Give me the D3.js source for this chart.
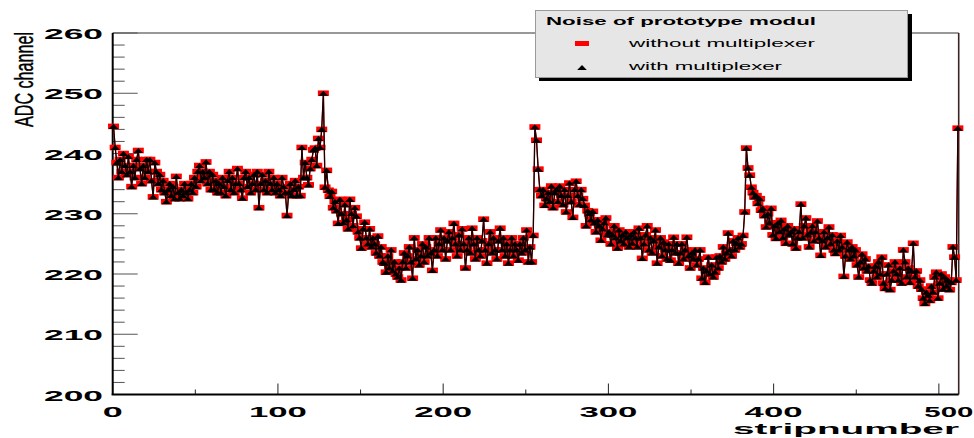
<!DOCTYPE html>
<html>
<head>
<meta charset="utf-8">
<script src="https://cdn.jsdelivr.net/npm/d3@7"></script>
<style>
  html, body { margin: 0; padding: 0; background: #ffffff; }
  svg { display: block; }
</style>
</head>
<body>
<svg id="chart" width="974" height="438"></svg>
<script>
// ---------------- data ----------------
const chartTitle = "Noise of prototype modul";
const seriesNames = ["without multiplexer", "with multiplexer"];
const xTitle = "stripnumber";
const yTitle = "ADC channel";
const xTickValues = [0, 100, 200, 300, 400, 500];
const xTickLabels = ["0", "100", "200", "300", "400", "500"];
const yTickValues = [200, 210, 220, 230, 240, 250, 260];
const yTickLabels = ["200", "210", "220", "230", "240", "250", "260"];

// ADC noise per strip (strips 0..511)
const withoutMultiplexer = [
  // 0-31
  244.5,241,238.5,236,239,237,240,238,236.5,239.5,237,234.5,238,236,239,240.5,
  237.5,235,238,236,239,237,239,235.5,232.8,238.5,237,235,236.5,234,235.5,233.5,
  // 32-63
  232,234,235,233,234.5,232.5,236.2,233.5,232.5,234,233,235,233.5,232.5,234,235,
  233.5,236,234.5,237,238,235.5,237,236,238.6,235,237,234,236.5,234,235.5,233.5,
  // 64-95
  235,233.5,236,234.5,233,235.5,237,234,236,233.5,235,237.5,235,234,232.6,236,
  237,234.5,236,233.5,235,236.5,234,237,231,235,236.5,234,235.5,233.5,237,235,
  // 96-127
  234,236,233.5,235,234,233,236,234.5,233.5,229.7,233.5,235,233,234,235.5,233,
  234.5,233,241,236,238.5,236,234.8,237.5,239,240.6,240.9,238,242.5,241,244,250,
  // 128-159
  234.4,237.2,233.9,232.9,233.7,231,232,230.5,228.4,232.4,230,228.5,231.5,229,227.5,232.4,
  230,228,231,229.6,227,226,224.3,227.5,228.6,226,225,227.5,224.5,226,225,223.5,
  // 160-191
  226.3,223,224.5,222,221.8,220.3,223,221,224,220.5,222,220,219.5,221,219,222,
  223.5,221,223,224.5,222,219.3,226,222.5,224,221.5,223,225,222,224.5,223,226,
  // 192-223
  223.5,220.6,224,226,223,225,227.3,224,226,222.5,225.5,227,224,226,228.4,225,
  223,226.5,224,227.5,225,221,224,226,223.5,227.6,225,222.5,226,224,223,225.5,
  // 224-255
  229.1,224,221.8,225,227,223.5,226,224,222.5,225.5,227.6,224,226,223,225,221.8,
  224,226,223,225,224,222.3,225,223.5,226,224,227.3,222,224.5,222,226.4,244.4,
  // 256-287
  242.2,237.4,234,233,234,231.4,232.5,233.5,232,234.6,231,233.5,234,232,234.6,233,
  231.5,234,230.3,233,235.1,232,229.4,234,235.4,233,231.5,234,232.5,231.4,228,230.5,
  // 288-319
  230,229,230.4,228.5,227,229,228,225.6,227.5,228.5,229.3,226.5,227,225,226.5,228,
  226,224.3,227.3,225.5,226.5,225,227,226,224.5,226.5,225.1,227,226,224.5,227.6,226,
  // 320-351
  222.6,225,226.5,228,224,226,223.5,225.5,227.3,221.8,224.5,226,223,225.3,224,222.5,
  225,222.3,224,226.1,223.5,225,221.8,223.5,225,222.5,224,226.1,223,221,223.5,222.5,
  // 352-383
  224,221.5,222.5,224,219.3,221,218.6,220.5,222.8,220,221.5,219.5,220.3,222.8,221,223,
  222,224.5,222.5,223.5,226.8,224,223,225.5,224,225.1,226,224.5,225,226.4,230.3,240.9,
  // 384-415
  237.6,236.4,234.4,233.5,232.8,233,231.7,232.5,230.6,230.9,229.7,227.8,230,228.5,230.9,226.5,
  228,225.9,228.5,227,228.9,226,227.5,225.1,228,226.5,227,225,227.5,224.3,226,227,
  // 416-447
  231.6,226,228,229.3,226.5,224.5,227,228,225.5,227,228.8,226,223.1,225.5,227,224.5,
  226,227.8,225,226.5,224,223.4,225.5,224,226.4,224.5,219.6,223,225.3,224,222.5,224.5,
  // 448-479
  223,224,221.5,219.5,222,223.3,221,222.5,220.5,221.3,219,218.5,220.5,221.3,219.5,222,
  220,222.8,218.5,217.6,220,221.5,217.4,219,220.5,222,220,219,221,218.5,224,222,
  // 480-511
  219.5,221,218.6,220.5,225.1,219.5,220.5,218,219,217.5,216,215.1,217,216.5,215.6,218,
  217,219.5,220.3,216,218.5,220,217.5,219.5,218,219,217.4,218.6,224.5,222.8,219,244.2
];
// In the picture both series lie on top of each other (triangles sit on the squares)
const withMultiplexer = withoutMultiplexer;

// ---------------- layout ----------------
const svg = d3.select("#chart");
const x = d3.scaleLinear().domain([0, 512]).range([112.7, 958.7]);
const y = d3.scaleLinear().domain([200, 260]).range([394.5, 33]);
const FONT = "'Liberation Sans', Arial, Helvetica, sans-serif";

// frame (top / right)
svg.append("line").attr("x1", x(0)).attr("x2", x(512)).attr("y1", y(260)).attr("y2", y(260))
  .attr("stroke", "#333").attr("stroke-width", 1);
svg.append("line").attr("x1", x(512)).attr("x2", x(512)).attr("y1", y(260)).attr("y2", y(200))
  .attr("stroke", "#3a2424").attr("stroke-width", 1.6);

// y ticks (major every 10, minor every 2), pointing into the plot
const yMinor = d3.range(200, 260.001, 2);
svg.append("g").selectAll("line").data(yMinor).join("line")
  .attr("x1", x(0)).attr("x2", d => x(0) + (d % 10 === 0 ? 25 : 12))
  .attr("y1", d => y(d)).attr("y2", d => y(d))
  .attr("stroke", "#555").attr("stroke-width", 1);

// x ticks (major every 100, half every 50), pointing up
const xHalf = d3.range(0, 512, 50);
svg.append("g").selectAll("line").data(xHalf).join("line")
  .attr("x1", d => x(d)).attr("x2", d => x(d))
  .attr("y1", y(200)).attr("y2", d => y(200) - (d % 100 === 0 ? 11 : 5))
  .attr("stroke", "#222").attr("stroke-width", 1);

// axis lines
svg.append("line").attr("x1", x(0)).attr("x2", x(0)).attr("y1", y(260)).attr("y2", y(200) + 0.5)
  .attr("stroke", "#000").attr("stroke-width", 2);
svg.append("line").attr("x1", x(0) - 1).attr("x2", x(512)).attr("y1", y(200)).attr("y2", y(200))
  .attr("stroke", "#000").attr("stroke-width", 2);

// y tick labels
svg.append("g").selectAll("text").data(yTickValues).join("text")
  .attr("x", 103).attr("y", d => y(d) + 6)
  .attr("text-anchor", "end")
  .attr("font-family", FONT).attr("font-weight", "bold").attr("font-size", 15.5)
  .attr("textLength", 59).attr("lengthAdjust", "spacingAndGlyphs")
  .text((d, i) => yTickLabels[i]);

// x tick labels
svg.append("g").selectAll("text").data(xTickValues).join("text")
  .attr("x", (d, i) => x(d) + (i === xTickValues.length - 1 ? 10 : 0))
  .attr("y", 416.5)
  .attr("text-anchor", "middle")
  .attr("font-family", FONT).attr("font-weight", "bold").attr("font-size", 15.5)
  .attr("textLength", (d, i) => xTickLabels[i].length === 1 ? 20 : (i === xTickValues.length - 1 ? 49 : 58))
  .attr("lengthAdjust", "spacingAndGlyphs")
  .text((d, i) => xTickLabels[i]);

// axis titles
svg.append("text")
  .attr("x", 959).attr("y", 433.5).attr("text-anchor", "end")
  .attr("font-family", FONT).attr("font-weight", "bold").attr("font-size", 15.5)
  .attr("textLength", 226).attr("lengthAdjust", "spacingAndGlyphs")
  .text(xTitle);
// y title: condensed by a horizontal scale (in the rotated frame) so its box stays on the page
const yt = svg.append("text")
  .attr("text-anchor", "start")
  .attr("font-family", FONT).attr("font-size", 26)
  .attr("stroke", "#000").attr("stroke-width", 0.4)
  .text(yTitle);
const ytLen = yt.node().getComputedTextLength() || 150;
yt.attr("transform", `translate(33,127) rotate(-90) scale(${95 / ytLen},1)`);

// ---------------- series ----------------
const pts1 = withoutMultiplexer.map((v, i) => [i + 0.5, v]);
const pts2 = withMultiplexer.map((v, i) => [i + 0.5, v]);
const line = d3.line().x(d => x(d[0])).y(d => y(d[1]));

const plot = svg.append("g");
plot.append("path").datum(pts1).attr("d", line)
  .attr("fill", "none").attr("stroke", "#d00000").attr("stroke-width", 1.2);
plot.append("g").selectAll("rect").data(pts1).join("rect")
  .attr("x", d => x(d[0]) - 5.5).attr("y", d => y(d[1]) - 2.8)
  .attr("width", 11).attr("height", 5.6).attr("fill", "#ff0000");
plot.append("path").datum(pts2).attr("d", line)
  .attr("fill", "none").attr("stroke", "#1a0000").attr("stroke-width", 1.3);
const tri = (cx, cy) => `M${cx - 4.8},${cy + 2.6}L${cx + 4.8},${cy + 2.6}L${cx},${cy - 2.6}Z`;
plot.append("g").selectAll("path").data(pts2).join("path")
  .attr("d", d => tri(x(d[0]), y(d[1])))
  .attr("fill", "#000");

// ---------------- legend ----------------
const lg = svg.append("g");
lg.append("rect").attr("x", 539).attr("y", 14).attr("width", 373).attr("height", 67).attr("fill", "#000");
lg.append("rect").attr("x", 535.5).attr("y", 10.5).attr("width", 372).attr("height", 67)
  .attr("fill", "#e6e6e6").attr("stroke", "#9a9a9a").attr("stroke-width", 1);
lg.append("text").attr("x", 546).attr("y", 25)
  .attr("font-family", FONT).attr("font-weight", "bold").attr("font-size", 11.5)
  .attr("textLength", 270).attr("lengthAdjust", "spacingAndGlyphs")
  .text(chartTitle);
lg.append("rect").attr("x", 575).attr("y", 41).attr("width", 14).attr("height", 5).attr("fill", "#ff0000");
lg.append("path").attr("d", tri(582, 67.5)).attr("fill", "#000");
lg.append("text").attr("x", 629).attr("y", 47)
  .attr("font-family", FONT).attr("font-size", 11.5)
  .attr("textLength", 186).attr("lengthAdjust", "spacingAndGlyphs")
  .text(seriesNames[0]);
lg.append("text").attr("x", 629).attr("y", 69.5)
  .attr("font-family", FONT).attr("font-size", 11.5)
  .attr("textLength", 153).attr("lengthAdjust", "spacingAndGlyphs")
  .text(seriesNames[1]);
</script>
</body>
</html>
